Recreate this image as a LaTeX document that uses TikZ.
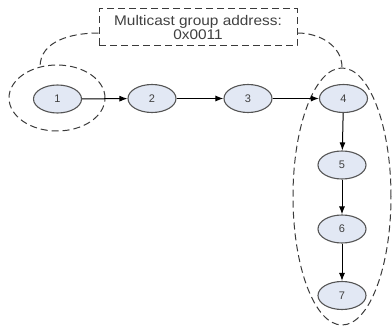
\documentclass[tikz,border=0pt]{standalone}
\usepackage{fontspec}
\setmainfont{Liberation Sans}
\newfontfamily\boxfont[FakeStretch=1.1]{Liberation Sans}
\usetikzlibrary{shapes.geometric,arrows.meta}
\definecolor{nodefill}{HTML}{E2E8F4}
\definecolor{nodeline}{HTML}{555555}
\definecolor{dashcol}{HTML}{3A3A3A}
\definecolor{txtcol}{HTML}{404040}
\begin{document}
\begin{tikzpicture}[x=1pt,y=-1pt,
  nd/.style={ellipse,draw=nodeline,fill=nodefill,line width=1.1pt,minimum width=48pt,minimum height=28pt,inner sep=0pt,text=txtcol,font=\fontsize{11}{12}\selectfont},
  grp/.style={ellipse,draw=dashcol,dash pattern=on 7pt off 4pt,line width=1pt,inner sep=0pt},
  arr/.style={-{Latex[length=8pt,width=6pt]},line width=1pt,black},
  lnk/.style={draw=dashcol,dash pattern=on 7pt off 4pt,line width=1pt}]
\useasboundingbox (0,0) rectangle (392,326);
\node[grp,minimum width=96pt,minimum height=66pt] (g1) at (57,98) {};
\node[grp,minimum width=98pt,minimum height=257pt] (g2) at (342,196.5) {};
\node[nd] (n1) at (57.5,99) {1};
\node[nd] (n2) at (152,98.5) {2};
\node[nd] (n3) at (248,98.5) {3};
\node[nd] (n4) at (343.5,98.5) {4};
\node[nd] (n5) at (342,165) {5};
\node[nd] (n6) at (342,229) {6};
\node[nd] (n7) at (342,295.5) {7};
\node[draw=dashcol,dash pattern=on 7pt off 4pt,line width=1pt,minimum width=198pt,minimum height=37pt,align=center,inner sep=0pt,text=txtcol,font=\boxfont\fontsize{14}{12}\selectfont] (box) at (198,27.5) {Multicast group address:\\0x0011};
\draw[arr] (n1) -- (n2);
\draw[arr] (n2) -- (n3);
\draw[arr] (n3) -- (n4);
\draw[arr] (n4) -- (n5);
\draw[arr] (n5) -- (n6);
\draw[arr] (n6) -- (n7);
\coordinate (bl) at ([yshift=-5.5pt]box.west);
\coordinate (br) at ([yshift=-5.5pt]box.east);
\coordinate (e1) at (40,67);
\draw[lnk] (bl) to[out=180,in=90] (e1);
\draw[lnk] (br) to[out=0,in=90] (g2.north);
\end{tikzpicture}
\end{document}
